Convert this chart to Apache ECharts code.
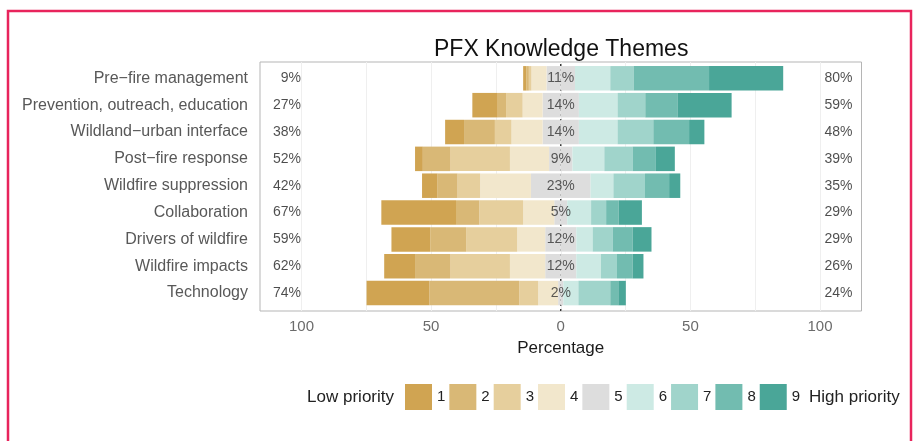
<!DOCTYPE html>
<html>
<head>
<meta charset="utf-8">
<script src="https://cdn.jsdelivr.net/npm/echarts@6/dist/echarts.min.js"></script>
<style>
  html, body { margin: 0; padding: 0; background: #fff; }
  #chart { width: 916px; height: 441px; }
</style>
</head>
<body>
<div id="chart"></div>
<script>
// themes, top to bottom
var themes = [
  'Pre\u2212fire management',
  'Prevention, outreach, education',
  'Wildland\u2212urban interface',
  'Post\u2212fire response',
  'Wildfire suppression',
  'Collaboration',
  'Drivers of wildfire',
  'Wildfire impacts',
  'Technology'
]

// share of answers per priority level (percent)
var p1 = [1.2, 9.8, 7.3, 3.0, 6.0, 28.8, 15.0, 11.9, 24.2]
var p2 = [1.0, 3.2, 11.9, 10.5, 7.7, 9.0, 13.8, 13.5, 34.7]
var p3 = [1.0, 6.4, 6.4, 23.1, 8.7, 16.9, 19.7, 23.1, 7.3]
var p4 = [5.8, 7.7, 12.0, 15.1, 19.6, 12.0, 10.8, 13.6, 7.7]
var p5 = [11, 14, 14, 9, 23, 5, 12, 12, 2]
var p6 = [13.6, 14.9, 14.9, 12.3, 8.8, 9.2, 6.3, 9.5, 5.8]
var p7 = [9.0, 10.7, 13.8, 10.9, 12.2, 5.8, 7.7, 6.2, 12.3]
var p8 = [29.1, 12.4, 13.8, 9.0, 9.3, 4.8, 7.7, 6.0, 3.1]
var p9 = [28.6, 20.9, 5.9, 7.3, 4.3, 9.0, 7.3, 4.2, 2.9]

// printed totals
var lowTotals = [9, 27, 38, 52, 42, 67, 59, 62, 74]
var midTotals = [11, 14, 14, 9, 23, 5, 12, 12, 2]
var highTotals = [80, 59, 48, 39, 35, 29, 29, 26, 24]

var levels = ['1', '2', '3', '4', '5', '6', '7', '8', '9']
var xTicks = [-100, -50, 0, 50, 100]
var xGrid = [-100, -75, -50, -25, 0, 25, 50, 75, 100]

var colors = {
  '1': '#d0a452', '2': '#d9b876', '3': '#e6cf9d', '4': '#f2e7cc', '5': '#dddddd',
  '6': '#cdeae4', '7': '#a0d4cb', '8': '#72bcb0', '9': '#4aa698'
}

var FONT = '"Liberation Sans", Arial, Helvetica, sans-serif'

function neg(arr) {
  return arr.map(function(v) { return -v })
}
function half(arr, sign) {
  return arr.map(function(v) { return sign * v / 2 })
}

function barSeries(name, data) {
  return {
    name: name,
    type: 'bar',
    stack: 'likert',
    xAxisIndex: 0,
    yAxisIndex: 0,
    barWidth: 24.5,
    z: 2,
    itemStyle: { color: colors[name] },
    emphasis: { disabled: true },
    data: data
  }
}

function labelSeries(x, texts, position, color) {
  return {
    type: 'scatter',
    xAxisIndex: 0,
    yAxisIndex: 0,
    symbolSize: 1,
    z: 5,
    silent: true,
    itemStyle: { color: 'rgba(0,0,0,0)' },
    label: {
      show: true,
      position: position,
      distance: 0,
      fontFamily: FONT,
      fontSize: 14,
      color: color,
      formatter: function(p) { return texts[p.dataIndex] + '%' }
    },
    data: themes.map(function(t) { return [x, t] })
  }
}

var chart = echarts.init(document.getElementById('chart'))

chart.setOption({
  animation: false,
  backgroundColor: '#fff',
  title: {
    text: 'PFX Knowledge Themes',
    left: 429,
    top: 33,
    textStyle: { fontFamily: FONT, fontSize: 23, fontWeight: 'normal', color: '#111' }
  },
  legend: {
    data: levels,
    left: 400,
    top: 379,
    icon: 'rect',
    itemWidth: 27,
    itemHeight: 26,
    itemGap: 4,
    selectedMode: false,
    textStyle: { fontFamily: FONT, fontSize: 15, color: '#222' }
  },
  grid: [
    // data grid (band centres like ggplot's expanded discrete scale)
    { left: 260, right: 54.5, top: 64.9, bottom: 134.5, outerBoundsMode: 'none' },
    // panel with border and grid lines
    {
      left: 260, right: 54.5, top: 62, bottom: 130, outerBoundsMode: 'none',
      show: true, borderColor: '#b5b5b5', borderWidth: 1, backgroundColor: 'transparent'
    }
  ],
  xAxis: [
    {
      type: 'value',
      gridIndex: 0,
      min: -116,
      max: 116,
      axisLine: { show: false },
      axisTick: { show: false },
      splitLine: { show: false },
      axisLabel: {
        customValues: xTicks,
        margin: 13,
        fontFamily: FONT,
        fontSize: 15,
        color: '#6b6b6b',
        formatter: function(v) { return Math.abs(v) }
      },
      name: 'Percentage',
      nameLocation: 'middle',
      nameGap: 31,
      nameTextStyle: { fontFamily: FONT, fontSize: 17, color: '#1a1a1a' }
    },
    {
      type: 'value',
      gridIndex: 1,
      min: -116,
      max: 116,
      axisLine: { show: false },
      axisTick: { show: false, customValues: xGrid },
      axisLabel: { show: false },
      splitLine: { show: true, lineStyle: { color: '#efefef', width: 1 } }
    }
  ],
  yAxis: [
    {
      type: 'category',
      gridIndex: 0,
      data: themes,
      inverse: true,
      axisLine: { show: false },
      axisTick: { show: true, alignWithLabel: true, length: 4, lineStyle: { color: '#b5b5b5' } },
      splitLine: { show: false },
      axisLabel: { margin: 12, fontFamily: FONT, fontSize: 16, color: '#585858' }
    },
    {
      type: 'value',
      gridIndex: 1,
      min: 0,
      max: 1,
      show: false
    }
  ],
  graphic: [
    {
      type: 'rect',
      shape: { x: 8, y: 11, width: 903, height: 450 },
      style: { fill: 'none', stroke: '#e8245c', lineWidth: 2.5 },
      silent: true
    },
    {
      type: 'text',
      x: 394,
      y: 397,
      style: { text: 'Low priority', fontFamily: FONT, fontSize: 17, fill: '#222', align: 'right', verticalAlign: 'middle' }
    },
    {
      type: 'text',
      x: 809,
      y: 397,
      style: { text: 'High priority', fontFamily: FONT, fontSize: 17, fill: '#222', align: 'left', verticalAlign: 'middle' }
    }
  ],
  series: [
    // dashed zero line behind the bars
    {
      type: 'line',
      xAxisIndex: 1,
      yAxisIndex: 1,
      z: 1,
      silent: true,
      symbol: 'none',
      lineStyle: { color: '#222', width: 1.3, type: [2, 3] },
      data: [[0, 0], [0, 1]]
    },
    barSeries('5', half(p5, -1)),
    barSeries('4', neg(p4)),
    barSeries('3', neg(p3)),
    barSeries('2', neg(p2)),
    barSeries('1', neg(p1)),
    barSeries('5', half(p5, 1)),
    barSeries('6', p6),
    barSeries('7', p7),
    barSeries('8', p8),
    barSeries('9', p9),
    labelSeries(-100, lowTotals, 'left', '#1f1f1f'),
    labelSeries(0, midTotals, 'inside', '#333'),
    labelSeries(101.5, highTotals, 'right', '#1f1f1f')
  ]
})
</script>
</body>
</html>
